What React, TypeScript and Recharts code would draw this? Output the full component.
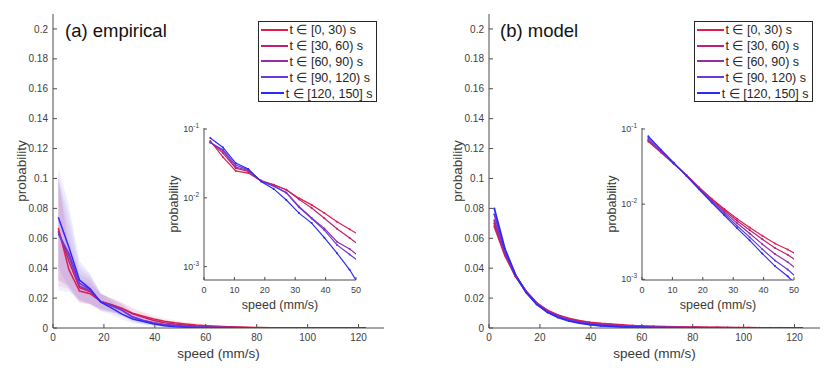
import React from 'react';
import { ComposedChart, Line, Area, XAxis, YAxis, Legend } from 'recharts';

const FONT = '"Liberation Sans", Arial, Helvetica, sans-serif';
const AXIS = '#4d4d4d';
const TICK_TEXT = '#404040';
const LABEL_TEXT = '#3a3a3a';

// time windows and their colours (red -> blue)
const periods = ['[0, 30)', '[30, 60)', '[60, 90)', '[90, 120)', '[120, 150]'];
const colors = ['#de1f4a', '#c0206f', '#9430a6', '#6a3ade', '#2a2aff'];

// bin centres (mm/s)
const speed = [2.08, 6.25, 10.42, 14.58, 18.75, 22.92, 27.08, 31.25, 35.42, 39.58, 43.75, 47.92, 52.08, 56.25, 60.42, 64.58, 68.75, 72.92, 77.08, 81.25, 85.42, 89.58, 93.75, 97.92, 102.08, 106.25, 110.42, 114.58, 118.75, 122.92];

// (a) empirical means
const emp0_30 = [0.067, 0.039, 0.0247, 0.0229, 0.0177, 0.0155, 0.0131, 0.0099, 0.0079, 0.006, 0.0045, 0.0035, 0.0027, 0.002, 0.0015, 0.0011, 0.0008, 0.0006, 0.00045, 0.0003, 0.00022, 0.00015, 0.0001, 0.00008, 0.00005, 0.00004, 0.00003, 0.00002, 0.00001, 0.00001];
const emp30_60 = [0.065, 0.0447, 0.027, 0.0242, 0.0178, 0.0155, 0.0131, 0.0095, 0.0071, 0.00506, 0.00355, 0.0026, 0.0019, 0.0014, 0.001, 0.0007, 0.0005, 0.00035, 0.00025, 0.00018, 0.00012, 0.00008, 0.00005, 0.00004, 0.00003, 0.00002, 0.00001, 0.00001, 0, 0];
const emp60_90 = [0.064, 0.048, 0.028, 0.025, 0.0175, 0.015, 0.012, 0.0075, 0.0051, 0.0036, 0.0023, 0.0018, 0.0013, 0.0009, 0.0006, 0.0004, 0.00028, 0.0002, 0.00013, 0.00009, 0.00006, 0.00004, 0.00003, 0.00002, 0.00001, 0.00001, 0, 0, 0, 0];
const emp90_120 = [0.063, 0.05, 0.03, 0.0255, 0.0175, 0.0148, 0.0118, 0.0073, 0.005, 0.0034, 0.00207, 0.0015, 0.0011, 0.0008, 0.00055, 0.00038, 0.00026, 0.00018, 0.00012, 0.00008, 0.00005, 0.00003, 0.00002, 0.00001, 0.00001, 0, 0, 0, 0, 0];
const emp120_150 = [0.074, 0.054, 0.032, 0.0262, 0.0173, 0.0135, 0.0093, 0.006, 0.0043, 0.00264, 0.00157, 0.0009, 0.00045, 0.00025, 0.00014, 0.00008, 0.00005, 0.00003, 0.00002, 0.00001, 0.00001, 0, 0, 0, 0, 0, 0, 0, 0, 0];

// (a) empirical spread (shaded bands)
const sd0_30 = [0.035, 0.012, 0.008, 0.007, 0.005, 0.0045, 0.004, 0.0035, 0.003, 0.0025, 0.002, 0.0017, 0.0014, 0.0011, 0.0009, 0.0007, 0.0005, 0.0004, 0.0003, 0.0002, 0.00015, 0.0001, 0.00008, 0.00005, 0.00004, 0.00003, 0.00002, 0.00002, 0.00001, 0.00001];
const sd30_60 = [0.033, 0.016, 0.009, 0.008, 0.005, 0.0045, 0.004, 0.0035, 0.003, 0.0022, 0.0017, 0.0013, 0.001, 0.0008, 0.0006, 0.0005, 0.0004, 0.0003, 0.0002, 0.00015, 0.0001, 0.00008, 0.00005, 0.00004, 0.00003, 0.00002, 0.00001, 0.00001, 0, 0];
const sd60_90 = [0.036, 0.022, 0.011, 0.009, 0.0055, 0.0045, 0.004, 0.003, 0.0025, 0.002, 0.0014, 0.001, 0.0008, 0.0006, 0.0004, 0.0003, 0.0002, 0.00015, 0.0001, 0.00007, 0.00005, 0.00003, 0.00002, 0.00001, 0.00001, 0, 0, 0, 0, 0];
const sd90_120 = [0.038, 0.026, 0.012, 0.01, 0.006, 0.0045, 0.0038, 0.003, 0.0024, 0.0018, 0.0013, 0.0009, 0.0007, 0.0005, 0.0003, 0.0002, 0.00015, 0.0001, 0.00007, 0.00005, 0.00003, 0.00002, 0.00001, 0.00001, 0, 0, 0, 0, 0, 0];
const sd120_150 = [0.033, 0.028, 0.013, 0.01, 0.006, 0.0045, 0.0035, 0.0028, 0.002, 0.0015, 0.001, 0.0006, 0.0004, 0.0002, 0.0001, 0.00007, 0.00005, 0.00003, 0.00002, 0.00001, 0.00001, 0, 0, 0, 0, 0, 0, 0, 0, 0];

// (b) model
const mod0_30 = [0.068, 0.0485, 0.0345, 0.0245, 0.0168, 0.0118, 0.0086, 0.0064, 0.0049, 0.0038, 0.003, 0.0025, 0.002, 0.0016, 0.0013, 0.0011, 0.0009, 0.00075, 0.0006, 0.0005, 0.0004, 0.00033, 0.00027, 0.00022, 0.00018, 0.00015, 0.00012, 0.0001, 0.00008, 0.00006];
const mod30_60 = [0.07, 0.0494, 0.0347, 0.0244, 0.0166, 0.0115, 0.0083, 0.006, 0.00453, 0.00341, 0.00261, 0.00212, 0.00164, 0.00127, 0.00099, 0.0008, 0.00063, 0.0005, 0.0004, 0.00032, 0.00025, 0.0002, 0.00016, 0.00012, 0.0001, 0.00008, 0.00006, 0.00005, 0.00004, 0.00003];
const mod60_90 = [0.072, 0.0506, 0.035, 0.0242, 0.0163, 0.0112, 0.00786, 0.0056, 0.00407, 0.00294, 0.00217, 0.0017, 0.00126, 0.00093, 0.00069, 0.00053, 0.00039, 0.00029, 0.00022, 0.00016, 0.00012, 0.00009, 0.00007, 0.00005, 0.00004, 0.00003, 0.00002, 0.00002, 0.00001, 0.00001];
const mod90_120 = [0.076, 0.0519, 0.0353, 0.024, 0.016, 0.0108, 0.00745, 0.00516, 0.00364, 0.00252, 0.00178, 0.00135, 0.00096, 0.00067, 0.00048, 0.00034, 0.00024, 0.00017, 0.00012, 0.00008, 0.00006, 0.00004, 0.00003, 0.00002, 0.00001, 0.00001, 0.00001, 0, 0, 0];
const mod120_150 = [0.08, 0.053, 0.0355, 0.0238, 0.0158, 0.0105, 0.0071, 0.0048, 0.0033, 0.0022, 0.0015, 0.0011, 0.00075, 0.0005, 0.00034, 0.00023, 0.00015, 0.0001, 0.00007, 0.00005, 0.00003, 0.00002, 0.00001, 0.00001, 0, 0, 0, 0, 0, 0];

const xTicks = [0, 20, 40, 60, 80, 100, 120];
const yTicks = [0, 0.02, 0.04, 0.06, 0.08, 0.1, 0.12, 0.14, 0.16, 0.18, 0.2];
const insetXTicks = [0, 10, 20, 30, 40, 50];
const logTicks = [0.001, 0.01, 0.1];

const empSeries = [emp0_30, emp30_60, emp60_90, emp90_120, emp120_150];
const empSd = [sd0_30, sd30_60, sd60_90, sd90_120, sd120_150];
const modSeries = [mod0_30, mod30_60, mod60_90, mod90_120, mod120_150];

const buildRows = (series: number[][], sds?: number[][]) =>
  speed.map((s, i) => {
    const row: any = { s };
    series.forEach((arr, k) => {
      row['m' + k] = arr[i];
      if (sds) row['b' + k] = [Math.max(0, arr[i] - sds[k][i]), arr[i] + sds[k][i]];
    });
    return row;
  });

const empRows = buildRows(empSeries, empSd);
const modRows = buildRows(modSeries);
// inset only covers 0-50 mm/s (log axis, keep positive values)
const empInset = empRows.slice(0, 13);
const modInset = modRows.slice(0, 13);

const tickStyle = { fontSize: 10, fill: TICK_TEXT, fontFamily: FONT };
const insetTickStyle = { fontSize: 9, fill: TICK_TEXT, fontFamily: FONT };

const LegendBox = () => (
  <div style={{ border: '1px solid #262626', background: '#fff', padding: '0 3px 0 2px', fontFamily: FONT, fontSize: 12.5, color: '#262626' }}>
    {periods.map((p, i) => (
      <div key={p} style={{ display: 'flex', alignItems: 'center', height: 15.8, whiteSpace: 'nowrap' }}>
        <span style={{ display: 'inline-block', width: 27, borderTop: `2px solid ${colors[i]}`, marginRight: 2 }} />
        <span>t ∈ {p} s</span>
      </div>
    ))}
  </div>
);

const LogTick = (props: any) => {
  const { x, y, payload } = props;
  const exp = Math.round(Math.log10(payload.value));
  return (
    <text x={x} y={y + 3} textAnchor="end" fontSize={9} fill={TICK_TEXT} fontFamily={FONT}>
      10<tspan dy={-4} fontSize={6.5}>{String(exp)}</tspan>
    </text>
  );
};

// axis titles as html overlays
const XTitle = ({ text, cx, top, size }: any) => (
  <div style={{ position: 'absolute', left: cx - 100, top, width: 200, textAlign: 'center', fontFamily: FONT, fontSize: size,
    lineHeight: 1, color: LABEL_TEXT, whiteSpace: 'nowrap' }}>{text}</div>
);
const YTitle = ({ text, cx, cy, size }: any) => (
  <div style={{ position: 'absolute', left: cx - 60, top: cy - 8, width: 120, height: 16, lineHeight: '16px', textAlign: 'center',
    fontFamily: FONT, fontSize: size, color: LABEL_TEXT, whiteSpace: 'nowrap', transform: 'rotate(-90deg)' }}>{text}</div>
);

function MainPanel({ rows, left, title, bands, dots }: any) {
  return (
    <div style={{ position: 'absolute', left, top: 0, width: 400, height: 368 }}>
      <ComposedChart width={400} height={368} data={rows} margin={{ top: 14, right: 16, bottom: 0, left: 0 }}>
        <XAxis dataKey="s" type="number" domain={[0, 130]} ticks={xTicks} interval={0} allowDataOverflow height={40}
          tickSize={-4} tickMargin={10} stroke={AXIS} tick={tickStyle} />
        <XAxis xAxisId="top" orientation="top" type="number" domain={[0, 130]} ticks={xTicks} interval={0} height={0}
          tick={false} tickSize={-4} stroke={AXIS} />
        <YAxis type="number" domain={[0, 0.21]} ticks={yTicks} interval={0} allowDataOverflow width={53}
          tickSize={-4} tickMargin={9} stroke={AXIS} tick={tickStyle} />
        <YAxis yAxisId="right" orientation="right" type="number" domain={[0, 0.21]} ticks={yTicks} interval={0} width={0}
          tick={false} tickSize={-4} stroke={AXIS} />
        {bands && colors.map((c, k) => (
          <Area key={'b' + k} dataKey={'b' + k} type="linear" stroke="none" fill={c} fillOpacity={0.08} isAnimationActive={false} />
        ))}
        {colors.map((c, k) => (
          <Line key={'m' + k} dataKey={'m' + k} type="linear" stroke={c} strokeWidth={dots ? 1.8 : 1.5}
            dot={dots ? { r: 1, strokeWidth: 0, fill: c } : false} isAnimationActive={false} />
        ))}
        <Legend layout="horizontal" verticalAlign="middle" align="center" content={<LegendBox />}
          wrapperStyle={{ position: 'absolute', left: 257.5, top: 21, width: 119, height: 'auto' }} />
      </ComposedChart>
      <XTitle text="speed (mm/s)" cx={218.5} top={346.6} size={13.5} />
      <YTitle text="probability" cx={22} cy={171} size={13.5} />
      <div style={{ position: 'absolute', left: 65 - (left === 0 ? 0 : 1), top: 22.3, fontFamily: FONT, fontSize: 18.5, lineHeight: 1, color: '#111', whiteSpace: 'nowrap' }}>
        {title}
      </div>
    </div>
  );
}

function InsetPanel({ rows, left, domainY }: any) {
  return (
    <div style={{ position: 'absolute', left, top: 118, width: 216, height: 200 }}>
      <ComposedChart width={216} height={200} data={rows} margin={{ top: 10, right: 10, bottom: 0, left: 0 }}>
        <XAxis dataKey="s" type="number" domain={[0, 50]} ticks={insetXTicks} interval={0} allowDataOverflow height={38}
          tickSize={-3} tickMargin={10} stroke={AXIS} tick={insetTickStyle} />
        <XAxis xAxisId="top" orientation="top" type="number" domain={[0, 50]} ticks={insetXTicks} interval={0} height={0}
          tick={false} tickSize={-3} stroke={AXIS} />
        <YAxis type="number" scale="log" domain={domainY} ticks={logTicks} interval={0} allowDataOverflow width={54}
          tickSize={-3} tickMargin={8} stroke={AXIS} tick={<LogTick />} />
        <YAxis yAxisId="right" orientation="right" type="number" scale="log" domain={domainY} ticks={logTicks} interval={0}
          allowDataOverflow width={0} tick={false} tickSize={-3} stroke={AXIS} />
        {colors.map((c, k) => (
          <Line key={'m' + k} dataKey={'m' + k} type="linear" stroke={c} strokeWidth={1.2}
            dot={{ r: 1, strokeWidth: 0, fill: c }} isAnimationActive={false} />
        ))}
      </ComposedChart>
      <XTitle text="speed (mm/s)" cx={130} top={181} size={12.5} />
      <YTitle text="probability" cx={24} cy={86} size={12.5} />
    </div>
  );
}

export default function App() {
  return (
    <div style={{ position: 'absolute', left: 0, top: 0, width: 838, height: 368, background: '#fff', overflow: 'hidden' }}>
      <MainPanel rows={empRows} left={0} title="(a) empirical" bands />
      <MainPanel rows={modRows} left={436} title="(b) model" dots />
      <InsetPanel rows={empInset} left={150} domainY={[0.00064, 0.1035]} />
      <InsetPanel rows={modInset} left={588} domainY={[0.00098, 0.103]} />
    </div>
  );
}
